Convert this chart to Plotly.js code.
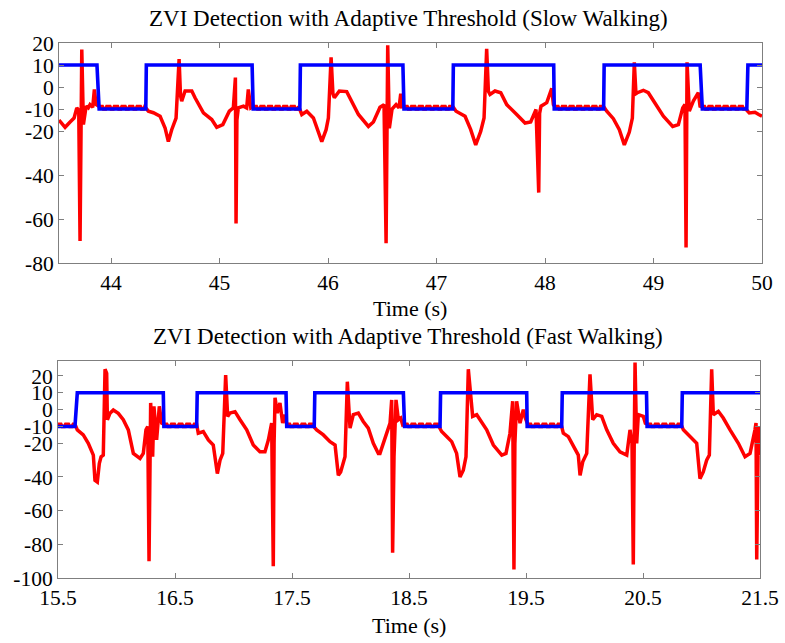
<!DOCTYPE html>
<html>
<head>
<meta charset="utf-8">
<script src="https://cdn.plot.ly/plotly-3.0.1.min.js"></script>
<style>html,body{margin:0;padding:0;background:#fff;}#chart{width:785px;height:643px;}</style>
</head>
<body>
<div id="chart"></div>
<script>
// ---- Slow walking: [time (s), signal] ----
const slowSignal = [
[43.52,-15],[43.55,-17],[43.576,-18.3],[43.62,-16],[43.659,-14.1],[43.684,-9.5],[43.702,-10.5],[43.714,-70],[43.722,-20],[43.730,17],[43.745,-17],[43.770,-8.7],[43.790,-9.5],[43.806,-8],[43.831,-9.2],[43.846,-1.1],[43.862,-8],
[43.89,-8.9],[43.92,-8.9],[43.93,-10],[43.95,-10],[43.96,-8.9],[43.99,-8.9],[44.00,-10],[44.02,-10],[44.03,-8.9],[44.06,-8.9],[44.07,-10],[44.09,-10],[44.10,-8.9],[44.13,-8.9],[44.14,-10],[44.16,-10],[44.17,-8.9],[44.20,-8.9],[44.21,-10],[44.23,-10],[44.24,-8.9],[44.27,-8.9],[44.28,-10],[44.30,-10],[44.31,-8.9],
[44.344,-11],[44.39,-11.7],[44.452,-13.3],[44.498,-18.7],[44.528,-24.8],[44.559,-19.4],[44.599,-14.1],[44.627,12.7],[44.640,-4],[44.651,-6.4],[44.682,-1.8],[44.744,-1.8],[44.774,-4.9],[44.851,-11.8],[44.928,-14.8],[44.974,-18.3],[45.03,-17.1],[45.09,-11],[45.127,-9.5],[45.146,4.3],[45.152,-62],[45.160,-15],[45.173,-9.5],[45.22,-8.7],[45.250,-9.5],[45.265,-1.1],[45.288,-9.5],
[45.31,-8.9],[45.34,-8.9],[45.35,-10],[45.37,-10],[45.38,-8.9],[45.41,-8.9],[45.42,-10],[45.44,-10],[45.45,-8.9],[45.48,-8.9],[45.49,-10],[45.51,-10],[45.52,-8.9],[45.55,-8.9],[45.56,-10],[45.58,-10],[45.59,-8.9],[45.62,-8.9],[45.63,-10],[45.65,-10],[45.66,-8.9],[45.69,-8.9],[45.70,-10],[45.72,-10],[45.73,-8.9],
[45.758,-12.5],[45.804,-11],[45.865,-14.1],[45.911,-20.2],[45.942,-24.8],[45.982,-19.4],[46.003,-14.1],[46.028,13.5],[46.045,-3],[46.058,-4.9],[46.104,-1.8],[46.172,-2.1],[46.218,-6.4],[46.28,-12.5],[46.372,-17.9],[46.418,-15.9],[46.479,-9.2],[46.516,-8],[46.535,-71],[46.543,-15],[46.55,19],[46.565,-18.7],[46.59,-10],[46.627,-8],[46.654,-9.5],[46.67,-3],[46.68,-9],
[46.70,-8.9],[46.73,-8.9],[46.74,-10],[46.76,-10],[46.77,-8.9],[46.80,-8.9],[46.81,-10],[46.83,-10],[46.84,-8.9],[46.87,-8.9],[46.88,-10],[46.90,-10],[46.91,-8.9],[46.94,-8.9],[46.95,-10],[46.97,-10],[46.98,-8.9],[47.01,-8.9],[47.02,-10],[47.04,-10],[47.05,-8.9],[47.08,-8.9],[47.09,-10],[47.11,-10],[47.12,-8.9],[47.15,-8.9],
[47.18,-11],[47.263,-13.3],[47.315,-19.4],[47.361,-26.3],[47.407,-20.2],[47.438,-14.1],[47.462,17.3],[47.478,-2],[47.493,-3.4],[47.539,-1.8],[47.592,-2.6],[47.647,-8],[47.739,-12.5],[47.816,-16.4],[47.868,-15.9],[47.917,-10.2],[47.942,-48],[47.950,-12],[47.963,-8.7],[48.016,-7.1],[48.062,-0.6],[48.077,-8],
[48.09,-8.9],[48.12,-8.9],[48.13,-10],[48.15,-10],[48.16,-8.9],[48.19,-8.9],[48.20,-10],[48.22,-10],[48.23,-8.9],[48.26,-8.9],[48.27,-10],[48.29,-10],[48.30,-8.9],[48.33,-8.9],[48.34,-10],[48.36,-10],[48.37,-8.9],[48.40,-8.9],[48.41,-10],[48.43,-10],[48.44,-8.9],[48.47,-8.9],[48.48,-10],[48.50,-10],[48.51,-8.9],[48.54,-8.9],
[48.569,-11],[48.63,-14.4],[48.685,-19.4],[48.731,-26.3],[48.777,-20.5],[48.805,-14.1],[48.823,11.2],[48.838,-3],[48.851,-2.6],[48.906,-1.5],[48.952,-2.6],[49.014,-7.2],[49.091,-13.3],[49.177,-17.9],[49.229,-17.1],[49.269,-9.5],[49.29,-8],[49.30,-73],[49.305,-20],[49.309,11.2],[49.33,-11],[49.367,-6.4],[49.413,-2.6],[49.429,-8.7],
[49.44,-8.9],[49.47,-8.9],[49.48,-10],[49.50,-10],[49.51,-8.9],[49.54,-8.9],[49.55,-10],[49.57,-10],[49.58,-8.9],[49.61,-8.9],[49.62,-10],[49.64,-10],[49.65,-8.9],[49.68,-8.9],[49.69,-10],[49.71,-10],[49.72,-8.9],[49.75,-8.9],[49.76,-10],[49.78,-10],[49.79,-8.9],[49.82,-8.9],[49.83,-10],[49.85,-10],
[49.883,-11.8],[49.935,-11.5],[49.97,-12.5],[50.0,-13.3]
];
const slowThreshold = [
[43.52,10],[43.87,10],[43.89,-10],[44.32,-10],[44.325,10],[45.30,10],[45.31,-10],[45.74,-10],[45.745,10],[46.69,10],[46.70,-10],[47.15,-10],[47.155,10],[48.08,10],[48.085,-10],[48.54,-10],[48.545,10],[49.43,10],[49.45,-10],[49.86,-10],[49.87,10],[50.0,10]
];
// ---- Fast walking: [time (s), signal] ----
const fastSignal = [
[15.50,-8.6],[15.525,-8.6],[15.535,-10],[15.555,-10],[15.565,-8.6],[15.59,-8.6],[15.60,-10],[15.62,-10],[15.63,-8.6],[15.645,-8.6],
[15.665,-12],[15.716,-15],[15.759,-20],[15.788,-25],[15.802,-27],[15.816,-42],[15.836,-43],[15.853,-32],[15.868,-28],[15.887,-27],[15.902,24],[15.916,21.6],[15.922,-6],[15.944,-2.2],[15.973,-0.2],[16.015,-2.2],[16.058,-6],[16.101,-12],[16.144,-26],[16.201,-29],[16.229,-26],[16.252,-12],[16.267,-10],[16.278,-90],[16.285,-20],[16.292,4],[16.309,-28],[16.32,2],[16.343,-18],[16.366,2],[16.386,-8],
[16.405,-8.6],[16.43,-8.6],[16.44,-10],[16.46,-10],[16.47,-8.6],[16.495,-8.6],[16.505,-10],[16.525,-10],[16.535,-8.6],[16.56,-8.6],[16.57,-10],[16.59,-10],[16.60,-8.6],[16.625,-8.6],[16.635,-10],[16.655,-10],[16.665,-8.6],[16.685,-8.6],
[16.699,-14],[16.742,-13],[16.785,-18],[16.827,-21],[16.862,-38],[16.885,-30],[16.908,-26],[16.933,20.6],[16.95,-4],[16.97,-2],[17.013,-1.2],[17.056,-6],[17.113,-12],[17.169,-21],[17.226,-25],[17.269,-25],[17.298,-18],[17.326,-8],[17.34,-93],[17.347,-20],[17.355,7],[17.374,-2],[17.397,4],[17.42,-8],[17.44,-3],
[17.455,-8.6],[17.48,-8.6],[17.49,-10],[17.51,-10],[17.52,-8.6],[17.545,-8.6],[17.555,-10],[17.575,-10],[17.585,-8.6],[17.61,-8.6],[17.62,-10],[17.64,-10],[17.65,-8.6],[17.675,-8.6],[17.685,-10],
[17.711,-12],[17.768,-15],[17.825,-19],[17.868,-21],[17.896,-39],[17.916,-37],[17.939,-30],[17.953,-28],[17.973,16.6],[17.996,-11],[18.024,-3],[18.067,-2],[18.109,-7],[18.152,-11],[18.195,-20],[18.238,-26],[18.252,-26],[18.28,-20],[18.323,-10],[18.338,-8],[18.352,5.8],[18.36,-85],[18.372,-28],[18.389,5.8],[18.409,-6],[18.429,-5],[18.446,-9],
[18.46,-8.6],[18.485,-8.6],[18.495,-10],[18.515,-10],[18.525,-8.6],[18.55,-8.6],[18.56,-10],[18.58,-10],[18.59,-8.6],[18.615,-8.6],[18.625,-10],[18.645,-10],[18.655,-8.6],[18.68,-8.6],[18.69,-10],[18.71,-10],[18.72,-8.6],[18.745,-8.6],[18.755,-10],
[18.779,-13],[18.822,-16],[18.865,-19],[18.907,-26],[18.936,-40],[18.964,-36],[18.987,-28],[19.007,24],[19.027,8],[19.044,-4],[19.079,-3],[19.107,-6],[19.164,-12],[19.221,-21],[19.293,-27],[19.329,-26],[19.363,-14],[19.386,5],[19.397,-95],[19.405,-20],[19.42,5],[19.449,-8],[19.477,0],[19.494,-5],
[19.515,-8.6],[19.54,-8.6],[19.55,-10],[19.57,-10],[19.58,-8.6],[19.605,-8.6],[19.615,-10],[19.635,-10],[19.645,-8.6],[19.67,-8.6],[19.68,-10],[19.70,-10],[19.71,-8.6],[19.735,-8.6],[19.745,-10],[19.765,-10],[19.775,-8.6],[19.80,-8.6],
[19.819,-14],[19.862,-16],[19.904,-21],[19.947,-27],[19.962,-39],[19.985,-31],[20.019,-26],[20.047,21],[20.07,-6],[20.104,-3],[20.147,-4],[20.19,-12],[20.246,-20],[20.303,-25],[20.361,-27],[20.389,-12],[20.406,-20],[20.417,-92],[20.425,-20],[20.432,28],[20.446,-20],[20.46,-3],[20.503,-4],[20.52,-8],
[20.54,-8.6],[20.565,-8.6],[20.575,-10],[20.595,-10],[20.605,-8.6],[20.63,-8.6],[20.64,-10],[20.66,-10],[20.67,-8.6],[20.695,-8.6],[20.705,-10],[20.725,-10],[20.735,-8.6],[20.76,-8.6],[20.77,-10],[20.79,-10],[20.80,-8.6],[20.825,-8.6],
[20.845,-12],[20.902,-16],[20.959,-20],[20.987,-41],[21.015,-37],[21.044,-30],[21.067,-27],[21.087,24],[21.101,-3],[21.144,-1],[21.186,-5],[21.244,-12],[21.315,-20],[21.372,-28],[21.415,-26],[21.457,-12],[21.466,-8],[21.472,-89],[21.48,-20],[21.486,-10],[21.5,-27]
];
const fastThreshold = [
[15.5,-10],[15.645,-10],[15.665,10],[16.40,10],[16.405,-10],[16.685,-10],[16.69,10],[17.449,10],[17.455,-10],[17.69,-10],[17.695,10],[18.452,10],[18.462,-10],[18.765,-10],[18.77,10],[19.506,10],[19.51,-10],[19.805,-10],[19.81,10],[20.53,10],[20.535,-10],[20.831,-10],[20.836,10],[21.5,10]
];
const slowXTicks = [44,45,46,47,48,49,50];
const slowYTicks = [-80,-60,-40,-20,-10,0,10,20];
const fastXTicks = [15.5,16.5,17.5,18.5,19.5,20.5,21.5];
const fastYTicks = [-100,-80,-60,-40,-20,-10,0,10,20];
const titles = ['ZVI Detection with Adaptive Threshold (Slow Walking)','ZVI Detection with Adaptive Threshold (Fast Walking)'];
const xLabel = 'Time (s)';

const FONT = '"Liberation Serif", "Times New Roman", serif';
function line(data, color, width, xa, ya) {
  return {x: data.map(p=>p[0]), y: data.map(p=>p[1]), type:'scatter', mode:'lines',
    line:{color:color, width:width}, xaxis:xa, yaxis:ya, hoverinfo:'skip', showlegend:false};
}
const traces = [
  line(slowSignal,'#ff0000',3.5,'x','y'),
  line(slowThreshold,'#0000ff',3.6,'x','y'),
  line(fastSignal,'#ff0000',3.5,'x2','y2'),
  line(fastThreshold,'#0000ff',3.6,'x2','y2')
];
const W=785,H=643;
const axBase = {showgrid:false, zeroline:false, showline:true, mirror:'ticks', linecolor:'#7f7f7f', linewidth:1,
  ticks:'inside', ticklen:5, tickcolor:'#7f7f7f', tickfont:{family:FONT,size:21.5,color:'#000'}, fixedrange:true};
const tf = {family:FONT,size:23,color:'#000'};
const lf = {family:FONT,size:22,color:'#000'};
const layout = {
  width:W, height:H, margin:{l:0,r:0,t:0,b:0}, paper_bgcolor:'#fff', plot_bgcolor:'#fff',
  xaxis: Object.assign({}, axBase, {domain:[59/W,762/W], range:[43.52,50], tickvals:slowXTicks, ticktext:slowXTicks.map(String), anchor:'y'}),
  yaxis: Object.assign({}, axBase, {domain:[1-263/H,1-43/H], range:[-80,20], tickvals:slowYTicks, ticktext:slowYTicks.map(String), anchor:'x'}),
  xaxis2: Object.assign({}, axBase, {domain:[58/W,760/W], range:[15.5,21.5], tickvals:fastXTicks, ticktext:fastXTicks.map(v=>v.toFixed(1)), anchor:'y2'}),
  yaxis2: Object.assign({}, axBase, {domain:[1-578/H,1-361/H], range:[-100,28.9], tickvals:fastYTicks, ticktext:fastYTicks.map(String), anchor:'x2'}),
  annotations: [
    {text:titles[0], xref:'paper', yref:'paper', x:408/W, y:1-18.5/H, xanchor:'center', yanchor:'middle', showarrow:false, font:tf},
    {text:xLabel, xref:'paper', yref:'paper', x:410/W, y:1-309/H, xanchor:'center', yanchor:'middle', showarrow:false, font:lf},
    {text:titles[1], xref:'paper', yref:'paper', x:408/W, y:1-336/H, xanchor:'center', yanchor:'middle', showarrow:false, font:tf},
    {text:xLabel, xref:'paper', yref:'paper', x:409/W, y:1-625/H, xanchor:'center', yanchor:'middle', showarrow:false, font:lf}
  ]
};
Plotly.newPlot('chart', traces, layout, {displayModeBar:false, staticPlot:true});
</script>
</body>
</html>
